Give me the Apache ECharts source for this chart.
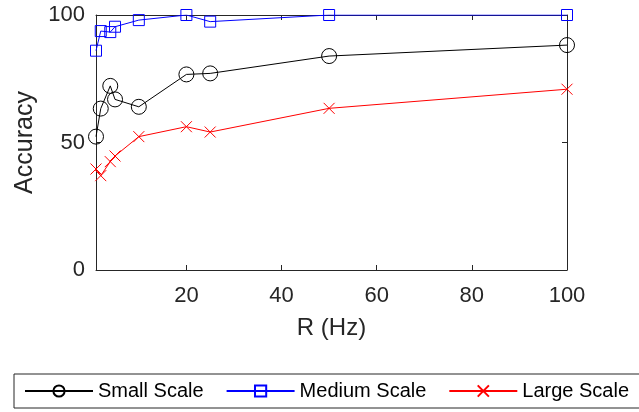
<!DOCTYPE html>
<html>
<head>
<meta charset="utf-8">
<script src="https://cdn.jsdelivr.net/npm/echarts@6/dist/echarts.min.js"></script>
<style>
html,body{margin:0;padding:0;background:#fff;}
#c{width:639px;height:412px;}
</style>
</head>
<body>
<div id="c"></div>
<script>
const rValues = [1, 2, 4, 5, 10, 20, 25, 50, 100];
const smallScale = [52.3, 63.3, 72.2, 66.9, 64.0, 76.7, 77.1, 83.9, 88.2];
const mediumScale = [86.0, 93.7, 93.3, 95.4, 98.0, 100, 97.4, 100, 100];
const largeScale = [39.6, 37.0, 42.5, 44.7, 52.3, 56.2, 54.1, 63.4, 70.9];
const xTicks = [20, 40, 60, 80, 100];
const yTicks = [0, 50, 100];
const seriesNames = ['Small Scale', 'Medium Scale', 'Large Scale'];

const FONT = '"Liberation Sans", Arial, Helvetica, sans-serif';
const AX = '#262626';

function pairs(vals){ return rValues.map((r,i)=>[r, vals[i]]); }

const chart = echarts.init(document.getElementById('c'), null, {renderer:'canvas'});
const baseX = {
  type:'value', min:1, max:100,
  axisLine:{show:true, onZero:false, lineStyle:{color:AX, width:1}},
  axisTick:{show:true, inside:true, length:5, customValues:xTicks, lineStyle:{color:AX}},
  splitLine:{show:false}
};
const baseY = {
  type:'value', min:0, max:100, interval:50,
  axisLine:{show:true, onZero:false, lineStyle:{color:AX, width:1}},
  axisTick:{show:true, inside:true, length:5, lineStyle:{color:AX}},
  splitLine:{show:false}
};
chart.setOption({
  animation:false,
  backgroundColor:'#fff',
  grid:{left:96, right:72, top:15, bottom:142, containLabel:false},
  xAxis:[
    Object.assign({}, baseX, {
      position:'bottom',
      name:'R (Hz)', nameLocation:'middle', nameGap:46,
      nameTextStyle:{fontSize:24, color:AX, fontFamily:FONT},
      axisLabel:{show:true, customValues:xTicks, margin:15, fontSize:22, color:AX, fontFamily:FONT}
    }),
    Object.assign({}, baseX, {position:'top', axisLabel:{show:false}})
  ],
  yAxis:[
    Object.assign({}, baseY, {
      position:'left',
      name:'Accuracy', nameLocation:'middle', nameGap:58,
      nameTextStyle:{fontSize:25, color:AX, fontFamily:FONT},
      axisLabel:{show:true, margin:11, fontSize:22, color:AX, fontFamily:FONT}
    }),
    Object.assign({}, baseY, {position:'right', axisLabel:{show:false}})
  ],
  legend:{
    left:14, top:374, width:700, orient:'horizontal',
    padding:[7, 11, 7, 10],
    borderColor:AX, borderWidth:1,
    itemWidth:68, itemHeight:14, itemGap:22,
    textStyle:{fontSize:20, color:'#000', fontFamily:FONT},
    data:seriesNames
  },
  series:[
    {
      name:seriesNames[0], type:'line', data:pairs(smallScale),
      symbol:'circle', symbolSize:15,
      lineStyle:{color:'#000', width:1},
      itemStyle:{color:'rgba(0,0,0,0)', borderColor:'#000', borderWidth:1},
      emphasis:{disabled:true}
    },
    {
      name:seriesNames[1], type:'line', data:pairs(mediumScale),
      symbol:'rect', symbolSize:11,
      lineStyle:{color:'#0000ff', width:1},
      itemStyle:{color:'rgba(0,0,0,0)', borderColor:'#0000ff', borderWidth:1},
      emphasis:{disabled:true}
    },
    {
      name:seriesNames[2], type:'line', data:pairs(largeScale),
      symbol:'path://M0,0L10,10M10,0L0,10', symbolSize:11,
      lineStyle:{color:'#ff0000', width:1},
      itemStyle:{color:'rgba(0,0,0,0)', borderColor:'#ff0000', borderWidth:1},
      emphasis:{disabled:true}
    }
  ]
});
</script>
</body>
</html>
